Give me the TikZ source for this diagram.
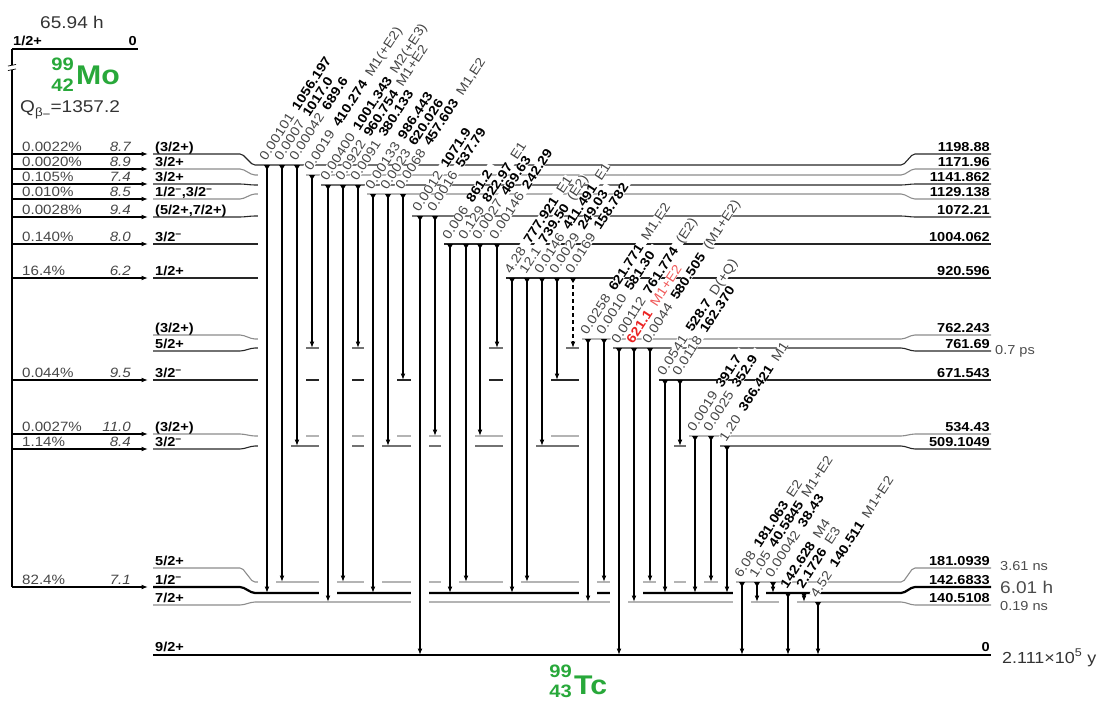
\documentclass[tikz,border=0pt]{standalone}
\usepackage{fontspec}
\setmainfont{Liberation Sans}[FakeStretch=1.12]
\usetikzlibrary{arrows.meta}
\definecolor{nucgreen}{RGB}{40,168,58}
\definecolor{hlred}{RGB}{235,35,35}
\colorlet{dimtxt}{black!72}
\newcommand\Sep{\hspace{0.55em}}
\newcommand\mi{\textsuperscript{−}}
\newcommand\labtext[1]{#1}
\newcommand\G[5]{\node[glab] (g#1) at (#1-1,#2-3.5) {\labtext{\textcolor{dimtxt}{#3}\Sep\textbf{#4}\Sep\textcolor{dimtxt}{#5}}};}
\newcommand\Graw[3]{\node[glab] (g#1) at (#1-1,#2-3.5) {\labtext{#3}};}
\newcommand\AllLabels{%
 \G{267}{165}{0.00101}{1056.197}{}
 \G{282}{165}{0.0007}{1017.0}{}
 \G{297}{165}{0.00042}{689.6}{}
 \G{312}{175}{0.0019}{410.274}{M1(+E2)}
 \G{328}{185}{0.00400}{1001.343}{M2(+E3)}
 \G{343}{185}{0.0922}{960.754}{M1+E2}
 \G{358}{185}{0.0091}{380.133}{}
 \G{373}{194}{0.00133}{986.443}{}
 \G{388}{194}{0.0023}{620.026}{}
 \G{403}{194}{0.0068}{457.603}{M1,E2}
 \G{420}{216}{0.0012}{1071.9}{}
 \G{435}{216}{0.0016}{537.79}{}
 \G{450}{244}{0.006}{861.2}{}
 \G{466}{244}{0.129}{822.97}{E1}
 \G{480}{244}{0.0027}{469.63}{}
 \G{497}{244}{0.00146}{242.29}{}
 \G{512}{278}{4.28}{777.921}{E1}
 \G{527}{278}{12.1}{739.50}{(E2)}
 \G{542}{278}{0.0146}{411.491}{E1}
 \G{557}{278}{0.0029}{249.03}{}
 \G{573}{278}{0.0169}{158.782}{}
 \G{588}{339}{0.0258}{621.771}{M1,E2}
 \G{604}{339}{0.0010}{581.30}{}
 \G{619}{348}{0.00112}{761.774}{(E2)}
 \Graw{634}{348}{\textcolor{hlred}{\textbf{621.1}}\Sep\textcolor{hlred!75}{M1+E2}}
 \G{650}{348}{0.0044}{580.505}{(M1+E2)}
 \G{665}{380}{0.0541}{528.7}{D(+Q)}
 \G{680}{380}{0.0118}{162.370}{}
 \G{695}{436}{0.0019}{391.7}{}
 \G{711}{436}{0.0025}{352.9}{}
 \G{727}{446}{1.20}{366.421}{M1}
 \G{742}{582}{6.08}{181.063}{E2}
 \G{757}{582}{1.05}{40.5845}{M1+E2}
 \G{773}{582}{0.00042}{38.43}{}
 \Graw{788}{593}{\textbf{142.628}\Sep\textcolor{dimtxt}{M4}}
 \Graw{804}{593}{\textbf{2.1726}\Sep\textcolor{dimtxt}{E3}}
 \G{818}{602}{4.52}{140.511}{M1+E2}
}
\newcommand\Lev[3]{\draw[#1] (153,#2) -- (242,#2) -- (253,#3) -- (903,#3) -- (913,#2) -- (991,#2);}
\newcommand\LevTxt[3]{%
 \node[spin] (s#1) at (155,#1-2.5) {#2};
 \node[enr] (e#1) at (990,#1-2.5) {#3};}
\newcommand\Feed[3]{%
 \draw[feed] (12,#1) -- (148,#1);
 \node[t13,anchor=base west,text=dimtxt,font=\fontsize{13.5}{15}\selectfont] (p#1) at (22,#1-2.5) {#2};
 \node[t13,anchor=base east,text=dimtxt,font=\fontsize{13.5}{15}\selectfont\itshape] (f#1) at (131,#1-2.5) {#3};}
\begin{document}
\begin{tikzpicture}[x=1pt,y=-1pt,
  lvl/.style={line width=1.1pt,draw=black!85,rounded corners=2pt},
  lvlg/.style={line width=1.1pt,draw=black!45,rounded corners=2pt},
  lvlk/.style={line width=2.2pt,draw=black,rounded corners=2pt},
  gam/.style={line width=1.1pt,-{Latex[length=6.5pt,width=4.8pt]}},
  dsh/.style={dash pattern=on 4pt off 3pt},
  feed/.style={line width=1.1pt,-{Latex[length=6.5pt,width=4.8pt]}},
  halo/.style={line width=18pt,draw=white},
  t13/.style={font=\fontsize{13}{15}\selectfont,inner sep=0pt},
  spin/.style={t13,font=\fontsize{13}{15}\selectfont\bfseries,anchor=base west},
  enr/.style={t13,font=\fontsize{13}{15}\selectfont\bfseries,anchor=base east},
  life/.style={t13,anchor=base west,text=black!70},
  glab/.style={rotate=57,anchor=base west,inner sep=1.2pt,text depth=0pt,t13,fill=white}]
\useasboundingbox (0,0) rectangle (1102,704);
% parent 99Mo
\node[anchor=base west,font=\fontsize{17}{19}\selectfont,text=black!80,inner sep=0pt] (hl) at (40,28) {65.94 h};
\draw[line width=2pt] (12,49) -- (138,49);
\node[spin] (mosp) at (13,45.5) {1/2+};
\node[enr] (moe) at (137,45.5) {0};
\draw[line width=1.1pt] (12,49) -- (12,587);
\fill[white] (8,65) rectangle (16,70);
\draw[line width=0.7pt] (8,66) -- (16,64.5);
\draw[line width=0.7pt] (8,70.5) -- (16,69);
\node[anchor=base west,inner sep=0pt,font=\fontsize{27}{29}\selectfont\bfseries,text=nucgreen] (mo) at (76,84) {Mo};
\node[anchor=base east,inner sep=0pt,font=\fontsize{18}{20}\selectfont\bfseries,text=nucgreen] (moa) at (74,70) {99};
\node[anchor=base east,inner sep=0pt,font=\fontsize{18}{20}\selectfont\bfseries,text=nucgreen] (moz) at (74,91) {42};
\node[anchor=base west,inner sep=0pt,font=\fontsize{17}{19}\selectfont,text=black!80] (q) at (20,112) {Q\raisebox{-0.45ex}{\fontsize{12}{14}\selectfont β\raisebox{-0.35ex}{−}}=1357.2};
% levels
\Lev{lvl}{154}{165}
\Lev{lvlg}{169}{175}
\Lev{lvl}{184}{185}
\Lev{lvlg}{199}{194}
\Lev{lvl}{217}{216}
\Lev{lvl}{244}{244}
\Lev{lvl}{278}{278}
\Lev{lvlg}{335}{339}
\Lev{lvl}{351}{348}
\Lev{lvl}{380}{380}
\Lev{lvlg}{434}{436}
\Lev{lvl}{449}{446}
\Lev{lvlg}{568}{582}
\Lev{lvlk}{587}{593}
\Lev{lvlg}{605}{602}
\draw[line width=2.6pt] (153,655) -- (991,655);
% level texts
\LevTxt{154}{(3/2+)}{1198.88}
\LevTxt{169}{3/2+}{1171.96}
\LevTxt{184}{3/2+}{1141.862}
\LevTxt{199}{1/2\mi,3/2\mi}{1129.138}
\LevTxt{217}{(5/2+,7/2+)}{1072.21}
\LevTxt{244}{3/2\mi}{1004.062}
\LevTxt{278}{1/2+}{920.596}
\LevTxt{335}{(3/2+)}{762.243}
\LevTxt{351}{5/2+}{761.69}
\LevTxt{380}{3/2\mi}{671.543}
\LevTxt{434}{(3/2+)}{534.43}
\LevTxt{449}{3/2\mi}{509.1049}
\LevTxt{568}{5/2+}{181.0939}
\LevTxt{587}{1/2\mi}{142.6833}
\LevTxt{605}{7/2+}{140.5108}
\LevTxt{654}{9/2+}{0}
% lifetimes
\node[life] (t761) at (995,354) {0.7 ps};
\node[life] (t181) at (1000,570) {3.61 ns};
\node[life,font=\fontsize{17}{19}\selectfont] (t142) at (1000,593) {6.01 h};
\node[life] (t140) at (1000,610) {0.19 ns};
\node[life,font=\fontsize{16}{18}\selectfont,text=black!80] (t0) at (1002,663) {2.111×10\textsuperscript{5} y};
% beta feeding
\Feed{154}{0.0022\%}{8.7}
\Feed{169}{0.0020\%}{8.9}
\Feed{184}{0.105\%}{7.4}
\Feed{199}{0.010\%}{8.5}
\Feed{217}{0.0028\%}{9.4}
\Feed{244}{0.140\%}{8.0}
\Feed{278}{16.4\%}{6.2}
\Feed{380}{0.044\%}{9.5}
\Feed{434}{0.0027\%}{11.0}
\Feed{449}{1.14\%}{8.4}
\Feed{587}{82.4\%}{7.1}
% gamma transitions: halos
\foreach \x/\a/\b in {267/165/593,282/165/582,297/165/446,312/175/348,328/185/602,343/185/582,358/185/348,373/194/593,388/194/446,403/194/380,420/216/655,435/216/436,450/244/593,466/244/582,480/244/436,497/244/348,512/278/593,527/278/582,542/278/446,557/278/380,573/278/348,588/339/602,604/339/582,619/348/655,634/348/602,650/348/582,665/380/593,680/380/446,695/436/593,711/436/582,727/446/593,742/582/655,757/582/602,773/582/593,788/593/655,804/593/602,818/602/655}
  {\draw[halo] (\x,\a+3) -- (\x,\b-3);}
% gamma transitions: lines
\foreach \x/\a/\b/\s in {267/165/593/solid,282/165/582/solid,297/165/446/solid,312/175/348/solid,328/185/602/solid,343/185/582/solid,358/185/348/solid,373/194/593/solid,388/194/446/solid,403/194/380/solid,420/216/655/solid,435/216/436/solid,450/244/593/solid,466/244/582/solid,480/244/436/solid,497/244/348/solid,512/278/593/solid,527/278/582/solid,542/278/446/solid,557/278/380/solid,573/278/348/dsh,588/339/602/solid,604/339/582/solid,619/348/655/solid,634/348/602/solid,650/348/582/solid,665/380/593/solid,680/380/446/solid,695/436/593/solid,711/436/582/solid,727/446/593/solid,742/582/655/solid,757/582/602/solid,773/582/593/solid,788/593/655/solid,804/593/602/solid,818/602/655/solid}
  {\draw[gam,\s] (\x,\a) -- (\x,\b);
   \fill (\x-3,\a) -- (\x+3,\a) -- (\x,\a+5) -- cycle;}
% labels: white backgrounds first, then texts
\let\labtext\phantom
\AllLabels
\def\labtext#1{#1}
\tikzset{glab/.style={rotate=57,anchor=base west,inner sep=1.2pt,text depth=0pt,t13}}
\AllLabels
% daughter 99Tc
\node[anchor=base west,inner sep=0pt,font=\fontsize{27}{29}\selectfont\bfseries,text=nucgreen] (tc) at (574,694) {Tc};
\node[anchor=base east,inner sep=0pt,font=\fontsize{18}{20}\selectfont\bfseries,text=nucgreen] (tca) at (572,677) {99};
\node[anchor=base east,inner sep=0pt,font=\fontsize{18}{20}\selectfont\bfseries,text=nucgreen] (tcz) at (572,697) {43};
\end{tikzpicture}
\end{document}
